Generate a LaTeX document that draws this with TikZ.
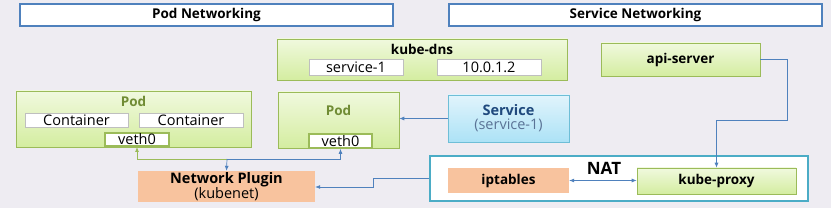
\documentclass[tikz,border=0pt]{standalone}
\usepackage{fontspec}
\setmainfont{Open Sans}
\usepackage{xcolor}
\usepackage{tikz}
\usetikzlibrary{positioning, arrows.meta, calc}

\definecolor{bgc}{RGB}{238,236,242}
\definecolor{hdrblue}{RGB}{79,129,189}
\definecolor{grnline}{RGB}{155,187,89}
\definecolor{grntop}{RGB}{240,249,222}
\definecolor{grnbot}{RGB}{212,237,160}
\definecolor{grntext}{RGB}{112,140,52}
\definecolor{peach}{RGB}{248,195,158}
\definecolor{svctop}{RGB}{225,244,252}
\definecolor{svcbot}{RGB}{172,226,246}
\definecolor{svcline}{RGB}{110,190,215}
\definecolor{svcdark}{RGB}{31,73,125}
\definecolor{svcgray}{RGB}{90,115,150}
\definecolor{natline}{RGB}{75,172,198}
\definecolor{linkblue}{RGB}{79,129,189}

\begin{document}
\begin{tikzpicture}[
    x=1pt, y=-1pt,
    >={Latex[length=5pt,width=4pt]},
    font=\fontsize{14.5}{16}\selectfont,
    box_header/.style={rectangle, draw=hdrblue, line width=1.5pt, fill=white, font=\fontsize{13.5}{15}\selectfont\bfseries},
    box_green/.style={rectangle, draw=grnline, line width=0.6pt, top color=grntop, bottom color=grnbot},
    box_white/.style={rectangle, draw=black!25, line width=0.4pt, fill=white, inner sep=0pt},
    box_veth/.style={rectangle, draw=grnline, line width=1.8pt, fill=white, inner sep=0pt},
    box_peach/.style={rectangle, fill=peach, align=center},
    txt_bold/.style={font=\fontsize{13.5}{15}\selectfont\bfseries},
    link_blue/.style={->, draw=linkblue, line width=0.7pt},
    link_green/.style={->, draw=grnline, line width=0.9pt}
]
\fill[bgc] (0,0) rectangle (831,208);
\useasboundingbox (0,0) rectangle (831,208);

% headers
\node[box_header, minimum width=373, minimum height=22] (hdr_pod) at (206.5,15) {Pod Networking};
\node[box_header, minimum width=373, minimum height=22] (hdr_svc) at (635.5,15) {Service Networking};

% kube-dns
\node[box_green, minimum width=290, minimum height=41] (dns) at (422,59.5) {};
\node[txt_bold] (dns_title) at (422,49) {kube-dns};
\node[box_white, minimum width=94, minimum height=16] (dns_name) at (356,67) {service-1};
\node[box_white, minimum width=104, minimum height=16] (dns_ip) at (489,67) {10.0.1.2};

% api-server
\node[box_green, txt_bold, minimum width=159, minimum height=33] (api) at (680.5,59.5) {api-server};

% pods
\node[box_green, minimum width=235, minimum height=56] (pod_a) at (133.5,119) {};
\node[txt_bold, text=grntext] (pod_a_title) at (133.5,101.5) {Pod};
\node[box_white, minimum width=103, minimum height=14] (ctr_a) at (76.5,120) {Container};
\node[box_white, minimum width=104, minimum height=14] (ctr_b) at (191,120) {Container};
\node[box_veth, minimum width=64, minimum height=13] (veth_a) at (137,139.5) {veth0};

\node[box_green, minimum width=121, minimum height=56] (pod_b) at (338.5,120) {};
\node[txt_bold, text=grntext] (pod_b_title) at (338.5,110) {Pod};
\node[box_veth, minimum width=63, minimum height=14] (veth_b) at (340.5,141) {veth0};

% service
\node[rectangle, draw=svcline, line width=0.6pt, top color=svctop, bottom color=svcbot,
      minimum width=121, minimum height=47, align=center] (svc) at (508.5,118.5)
      {\textcolor{svcdark}{\fontsize{14.5}{16}\selectfont\bfseries Service}\\[-2pt]\textcolor{svcgray}{(service-1)}};

% NAT group
\node[rectangle, draw=natline, line width=2.2pt, fill=white, minimum width=378, minimum height=45] (nat) at (619,178.5) {};
\node[box_peach, txt_bold, minimum width=121, minimum height=25] (ipt) at (508.5,180.5) {iptables};
\node[box_green, txt_bold, minimum width=159, minimum height=26] (proxy) at (716.5,181) {kube-proxy};
\node[font=\fontsize{17}{19}\selectfont\bfseries] (nat_label) at (604,168) {NAT};

% network plugin
\node[box_peach, minimum width=177, minimum height=31, inner sep=0pt] (plugin) at (226.5,186.5)
      {\fontsize{14.5}{15}\selectfont\bfseries Network Plugin\\[-1pt](kubenet)};

% links
\coordinate (br) at (227,159);
\draw[link_blue] (api.east) -- (787,59.5) -- (787,120) -- (716.5,120) -- (proxy.north);
\draw[link_blue] (svc.west) -- (svc.west -| pod_b.east);
\draw[link_blue] (nat.west) -- (373,178.5) -- (373,187) -- (plugin.east |- 0,187);
\draw[<->, draw=linkblue, line width=0.7pt] (ipt.east) -- (ipt.east -| proxy.west);
\draw[link_green] (br) -| (veth_a.south);
\draw[link_blue] (br) -| (veth_b.south);
\draw[link_blue] (br) -- (plugin.north);
\end{tikzpicture}
\end{document}
